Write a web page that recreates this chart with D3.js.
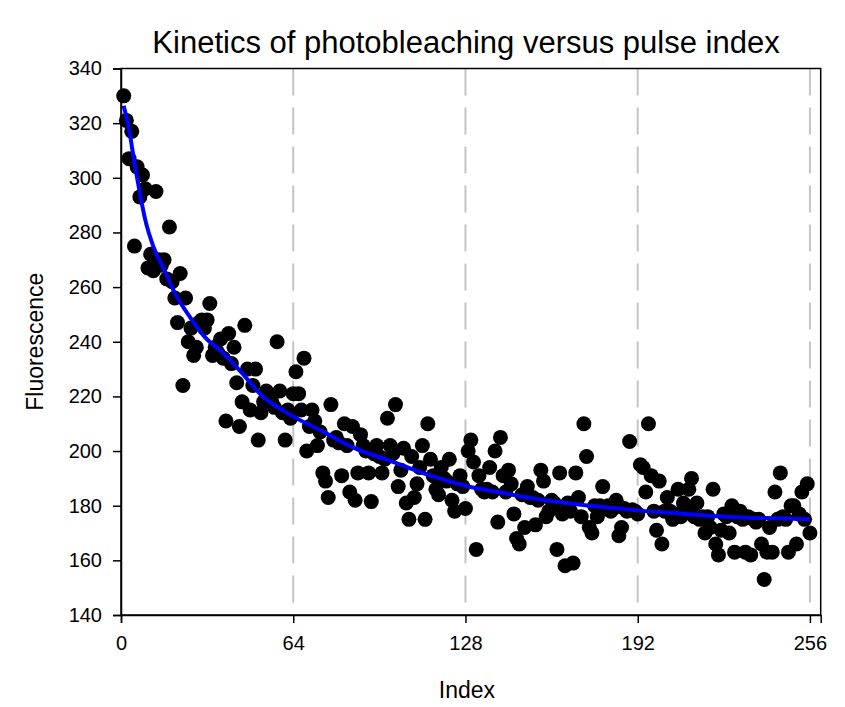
<!DOCTYPE html>
<html><head><meta charset="utf-8">
<script src="https://cdn.jsdelivr.net/npm/d3@7"></script>
<style>body{margin:0;background:#fff}svg{display:block}</style>
</head><body>
<script>
const title = "Kinetics of photobleaching versus pulse index";
const xLabel = "Index";
const yLabel = "Fluorescence";
const xTicks = [0, 64, 128, 192, 256];
const yTicks = [140, 160, 180, 200, 220, 240, 260, 280, 300, 320, 340];
const gridX = [64, 128, 192, 256];

// Fluorescence for pulse index 1..256
const fluorescence = [
330,321,307,317,275,304,293,301,296,267,272,266,295,270,268,270,263,282,262,256,
247,265,224,256,240,245,235,238,247,248,245,248,254,235,238,236,241,234,211,243,
232,238,225,209,218,246,230,215,224,230,204,214,218,222,219,218,216,240,222,214,
204,215,212,221,229,221,215,234,200,209,215,211,202,207,192,189,183,217,204,205,
203,191,210,202,185,209,182,192,206,202,200,192,181.5,199,202,198,192,197,212,202,
199,217,187,193,201,181,175,198,183,188,194,202,175,210,197,191,186,184,194,190,
189,197,182,178,188,191,187,179,200,204,196,164,191,186,185,186,194,185,200,174,
205,191,185,193,188,177,168,166,184,172,187,183,183,173,182,193,189,176,178,182,
181,164,192,177,158,181,178,159,192,183,176,210,198,172,170,180,176,180,187,179,
180,178,179,182,169,172,179,178,203.5,178.5,178,177,195,194,185,210,191,178,171,189,
166,178,183,178,175,177,186,176,181,178,186,190,176,181,175,176,170,176,172,186,
166,162,171,177,176,170,180,163,176,178,175,163,176,162,175,174,175,166,153,163,
172,163,185,175,192,176,175,163,180,180,166,177,185,175,188,170
];
const pulseIndex = fluorescence.map((_, i) => i + 1);

// fitted decay curve
const fitX = [1,3,5,7,9,12,16,20,25,31,38,45,52,62,75,87,99,116,128,141,157,168,181,193,210,220,233,245,256];
const fitY = [326.4,317.7,305.5,294.5,284.7,274.9,266.4,257.8,249.9,241.9,235.9,228.5,220.6,213.8,207.1,201,196.8,190.7,187.3,184.8,182.1,180.7,179.3,178.2,177,176.2,175.6,175.4,175];

const W = 845, H = 707;
const L = 121, R = 820.7, T = 68.5, B = 615;
const svg = d3.select("body").append("svg").attr("width", W).attr("height", H)
  .style("font-family", "Arial, 'Liberation Sans', sans-serif");

const x = d3.scaleLinear().domain([0, 260]).range([L, R]);
const y = d3.scaleLinear().domain([140, 340]).range([B, T]);

// grid
svg.append("g").selectAll("line").data(gridX).join("line")
  .attr("x1", d => x(d)).attr("x2", d => x(d)).attr("y1", T).attr("y2", B)
  .attr("stroke", "#c4c4c4").attr("stroke-width", 2).attr("stroke-dasharray", "27,12");

// frame
svg.append("rect").attr("x", L).attr("y", T).attr("width", R - L).attr("height", B - T)
  .attr("fill", "none").attr("stroke", "#000").attr("stroke-width", 1.5);

// points
svg.append("g").selectAll("circle").data(fluorescence).join("circle")
  .attr("cx", (d, i) => x(pulseIndex[i])).attr("cy", d => y(d)).attr("r", 7.5).attr("fill", "#000");

// fit line
const line = d3.line().x(d => x(d[0])).y(d => y(d[1])).curve(d3.curveMonotoneX);
svg.append("path").datum(fitX.map((v, i) => [v, fitY[i]])).attr("d", line)
  .attr("fill", "none").attr("stroke", "#0000ff").attr("stroke-width", 4);

// axes
const xAxis = d3.axisBottom(x).tickValues(xTicks).tickSize(8).tickPadding(13);
const gx = svg.append("g").attr("transform", `translate(0,${B})`).call(xAxis);
const yAxis = d3.axisLeft(y).tickValues(yTicks).tickSize(8).tickPadding(11);
const gy = svg.append("g").attr("transform", `translate(${L},0)`).call(yAxis);
[gx, gy].forEach(g => {
  g.select(".domain").attr("stroke", "#000").attr("stroke-width", 1.5);
  g.selectAll(".tick line").attr("stroke", "#000").attr("stroke-width", 1.5);
  g.selectAll(".tick text").attr("fill", "#000").style("font-size", "20px")
    .style("font-family", "Arial, 'Liberation Sans', sans-serif");
});

svg.append("text").attr("x", 466).attr("y", 53).attr("text-anchor", "middle")
  .style("font-size", "31px").text(title);
svg.append("text").attr("x", 467).attr("y", 698).attr("text-anchor", "middle")
  .style("font-size", "23px").text(xLabel);
svg.append("text").attr("transform", `translate(43,${(T + B) / 2}) rotate(-90)`)
  .attr("text-anchor", "middle").style("font-size", "23px").text(yLabel);
</script>
</body></html>
